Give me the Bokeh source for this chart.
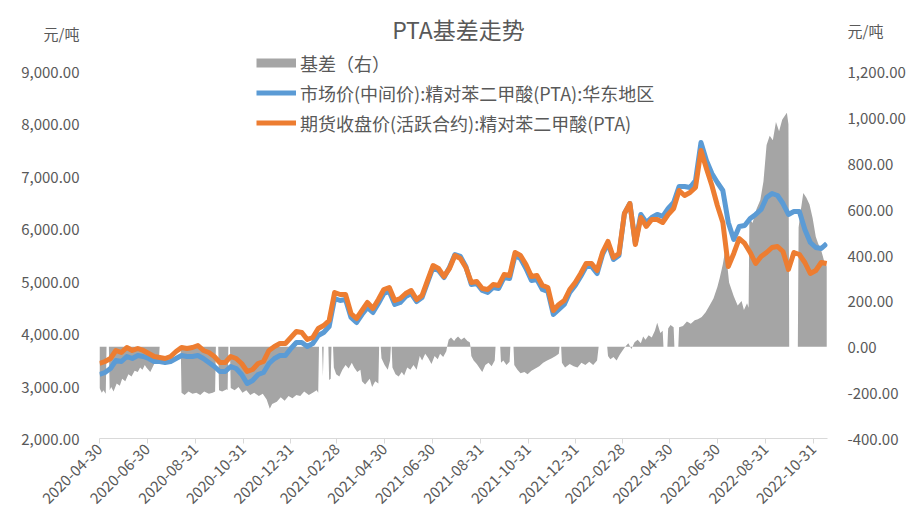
import pandas as pd
from math import pi
from bokeh.plotting import figure
from bokeh.models import (Range1d, LinearAxis, FixedTicker, NumeralTickFormatter,
                          DatetimeTickFormatter, Legend, LegendItem, Label)
from bokeh.embed import file_html
from bokeh.resources import INLINE

# ---------------- data ----------------
start_date = "2020-04-30"
end_offset_days = 932

# weekly samples starting 2020-04-30
market_price = [  # 市场价(中间价):精对苯二甲酸(PTA):华东地区
    3221, 3259, 3335, 3488, 3469, 3564, 3526, 3583, 3564, 3526,
    3469, 3469, 3450, 3469, 3526, 3583, 3564, 3564, 3583, 3526,
    3450, 3373, 3278, 3278, 3373, 3335, 3221, 3049, 3107, 3221,
    3259, 3431, 3526, 3583, 3583, 3717, 3831, 3831, 3755, 3812,
    3965, 4022, 4136, 4670, 4632, 4651, 4308, 4213, 4365, 4499,
    4403, 4575, 4766, 4804, 4556, 4594, 4709, 4766, 4613, 4690,
    4976, 5262, 5205, 5071, 5262, 5510, 5472, 5281, 4938, 4957,
    4823, 4785, 4880, 4861, 5071, 5052, 5491, 5433, 5243, 5014,
    5033, 4842, 4804, 4365, 4461, 4556, 4785, 4919, 5090, 5281,
    5281, 5147, 5510, 5720, 5414, 5491, 6292, 6482, 5720, 6273,
    6120, 6215, 6273, 6235, 6387, 6501, 6807, 6807, 6788, 6921,
    7646, 7303, 7055, 6883, 6730, 6120, 5796, 6044, 6063, 6197,
    6273, 6368, 6597, 6673, 6635, 6482, 6273, 6330, 6330, 5987,
    5738, 5643, 5624, 5720]

futures_price = [  # 期货收盘价(活跃合约):精对苯二甲酸(PTA)
    3431, 3469, 3526, 3679, 3640, 3736, 3679, 3717, 3679, 3621,
    3564, 3545, 3526, 3564, 3660, 3736, 3717, 3736, 3774, 3679,
    3640, 3564, 3450, 3450, 3564, 3526, 3431, 3278, 3316, 3431,
    3469, 3679, 3755, 3812, 3812, 3927, 4041, 4022, 3888, 3927,
    4098, 4155, 4251, 4785, 4747, 4747, 4384, 4289, 4441, 4594,
    4480, 4651, 4842, 4880, 4632, 4670, 4766, 4823, 4651, 4728,
    5014, 5300, 5243, 5090, 5243, 5491, 5433, 5262, 4976, 4995,
    4861, 4842, 4938, 4919, 5128, 5109, 5548, 5491, 5319, 5090,
    5109, 4919, 4880, 4442, 4556, 4632, 4842, 4976, 5147, 5338,
    5338, 5204, 5548, 5758, 5452, 5529, 6292, 6482, 5700, 6215,
    6044, 6177, 6177, 6120, 6273, 6387, 6730, 6635, 6692, 6788,
    7493, 7150, 6826, 6444, 6120, 5281, 5529, 5815, 5720, 5548,
    5338, 5471, 5548, 5643, 5662, 5567, 5224, 5548, 5510, 5357,
    5147, 5204, 5357, 5338]

# basis (右轴): days since 2020-04-30 and value
basis_day = [
    0, 3, 5, 8, 9, 12, 13, 15, 18, 22, 26, 29, 33, 37, 41, 45, 49, 52, 55, 58, 60, 65, 70, 76, 77,
    104, 105, 109, 114, 119, 124, 129, 134, 140, 145, 148, 149,
    152, 153, 157, 163, 164, 165,
    167, 168, 173, 178, 183, 188, 193, 198, 204, 209, 214, 218, 221, 227, 232, 237, 242, 247, 252, 257,
    262, 268, 273, 278, 280, 281,
    285, 286, 287,
    293, 294, 296, 297,
    299, 300, 303, 307, 311, 315, 319, 323, 326, 330, 334, 336, 340, 346, 349, 353, 357, 358,
    360, 361, 365, 369, 372, 373,
    374, 375, 379, 383, 387, 390, 394, 398, 402, 406, 410, 413, 417, 421, 425, 429, 433, 436, 440, 444, 445,
    447, 450, 454, 456, 459, 463, 467, 471, 474, 475,
    476, 479, 483, 486, 490, 494, 498, 502, 506, 507,
    513, 514, 517, 521, 525, 526,
    530, 531, 535, 539, 544, 548, 553, 558, 563, 568, 573, 579, 584, 588, 589,
    591, 592, 596, 602, 607, 612, 617, 622, 627, 632, 637, 639,
    650, 651, 654, 658, 662, 666, 669, 673, 677, 681, 685, 689, 693, 696, 699, 703, 707, 711, 714, 718, 721, 722,
    727, 728, 731, 735, 736,
    741, 742, 747, 752, 757, 762, 766, 771, 776, 781, 786, 791, 794, 798, 801, 803, 806, 812, 817, 822,
    825, 829, 831, 832, 836, 841, 846, 850, 854, 858, 862, 866, 870, 874, 878, 880, 882, 883,
    894, 895, 898, 901, 905, 909, 913, 917, 920, 924, 928, 931]

basis_value = [
    -180, -200, -190, -205, 0, 0, -190, -175, -195, -160, -170, -140, -150, -120, -130, -105, -110, -90, -100, -80, -90, -110, -75, -60, 0,
    0, -200, -210, -195, -205, -200, -210, -195, -205, -200, -195, 0,
    0, -190, -195, -185, -190, 0,
    0, -180, -190, -175, -200, -190, -210, -200, -215, -205, -230, -270, -250, -240, -220, -235, -215, -225, -210, -215,
    -195, -210, -200, -190, -200, 0,
    0, -130, 0,
    0, -145, -140, 0,
    0, -90, -120, -130, -100, -80, -95, -70, -90, -110, -100, -150, -165, -140, -175, -150, -160, 0,
    0, -50, -80, -100, -60, 0,
    0, -90, -120, -130, -110, -125, -90, -100, -80, -100, -40, -60, -30, -50, -75, -40, -55, -30, -45, -20, 0,
    30, 40, 25, 35, 45, 30, 40, 25, 20, 0,
    -40, -60, -75, -90, -110, -80, -70, -85, -60, 0,
    0, -70, -60, -80, -65, 0,
    0, -80, -100, -115, -110, -120, -105, -95, -85, -70, -60, -50, -40, -30, 0,
    0, -70, -90, -75, -85, -90, -70, -80, -65, -80, -60, 0,
    0, -40, -55, -45, -60, -35, -20, 0, 15, -10, 20, 30, 15, 45, 30, 50, 40, 70, 105, 60, 70, 0,
    0, 80, 95, 85, 0,
    0, 85, 90, 110, 100, 115, 120, 130, 150, 180, 210, 260, 300, 360, 420, 380, 280, 220, 180, 200,
    160, 190, 170, 560, 540, 600, 640, 720, 880, 920, 900, 980, 940, 990, 1010, 1020, 970, 0,
    0, 520, 600, 670, 650, 620, 560, 480, 450, 420, 370, 350]

tick_dates = ["2020-04-30", "2020-06-30", "2020-08-31", "2020-10-31", "2020-12-31",
              "2021-02-28", "2021-04-30", "2021-06-30", "2021-08-31", "2021-10-31",
              "2021-12-31", "2022-02-28", "2022-04-30", "2022-06-30", "2022-08-31",
              "2022-10-31"]
left_ticks = [2000, 3000, 4000, 5000, 6000, 7000, 8000, 9000]
right_ticks = [-400, -200, 0, 200, 400, 600, 800, 1000, 1200]

title_text = "PTA基差走势"
unit_text = "元/吨"
legend_labels = ["基差（右）",
                 "市场价(中间价):精对苯二甲酸(PTA):华东地区",
                 "期货收盘价(活跃合约):精对苯二甲酸(PTA)"]

# ---------------- layout constants ----------------
W, H = 915, 514
B_LEFT, B_RIGHT, B_TOP, B_BOTTOM = 99, 88, 8, 76
AXIS_PX = 367          # pixels from lowest to highest labelled tick
FRAME_H = H - B_TOP - B_BOTTOM
l_per_px = (left_ticks[-1] - left_ticks[0]) / AXIS_PX
r_per_px = (right_ticks[-1] - right_ticks[0]) / AXIS_PX
left_top = left_ticks[0] + FRAME_H * l_per_px
right_top = right_ticks[0] + FRAME_H * r_per_px
# unit captions sit as extra ticks near the top of each value axis
left_unit_at = left_ticks[0] + (FRAME_H - 25) * l_per_px
right_unit_at = right_ticks[0] + (FRAME_H - 22) * r_per_px

FONT = "Noto Sans CJK SC"
TXT = "#595959"
BLUE = "#5B9BD5"
ORANGE = "#ED7D31"
GREY = "#A5A5A5"

start = pd.Timestamp(start_date)
dates = pd.date_range(start, periods=len(market_price), freq="7D")
bdates = start + pd.to_timedelta(basis_day, unit="D")

p = figure(width=W, height=H, x_axis_type="datetime",
           x_range=Range1d(start, start + pd.Timedelta(days=end_offset_days)),
           y_range=Range1d(left_ticks[0], left_top),
           output_backend="svg", toolbar_location=None,
           min_border_left=B_LEFT, min_border_right=B_RIGHT,
           min_border_top=B_TOP, min_border_bottom=B_BOTTOM)
p.extra_y_ranges = {"right": Range1d(right_ticks[0], right_top)}
p.grid.visible = False
p.outline_line_color = None

r_area = p.varea(x=bdates, y1=0, y2=basis_value, y_range_name="right", fill_color=GREY)
r_blue = p.line(dates, market_price, line_color=BLUE, line_width=5, line_join="round")
r_orange = p.line(dates, futures_price, line_color=ORANGE, line_width=5, line_join="round")
# legend swatch for the area series (a single hidden point)
r_grey = p.line(x=[start], y=[float("nan")], line_color=GREY, line_width=9, line_cap="butt")

ya = p.yaxis[0]
ya.ticker = FixedTicker(ticks=left_ticks + [left_unit_at])
ya.formatter = NumeralTickFormatter(format="0,0.00")
ya.major_label_overrides = {left_unit_at: unit_text}

ra = LinearAxis(y_range_name="right", ticker=FixedTicker(ticks=right_ticks + [right_unit_at]),
                formatter=NumeralTickFormatter(format="0,0.00"))
ra.major_label_overrides = {right_unit_at: unit_text}
p.add_layout(ra, "right")

for ax in (ya, ra):
    ax.axis_line_color = None
    ax.major_tick_line_color = None
    ax.minor_tick_line_color = None
    ax.major_label_text_font = FONT
    ax.major_label_text_font_size = "15px"
    ax.major_label_text_color = TXT
    ax.major_label_standoff = 14

xa = p.xaxis[0]
xa.ticker = FixedTicker(ticks=[pd.Timestamp(d).timestamp() * 1000 for d in tick_dates])
fmt = "%Y-%m-%d"
xa.formatter = DatetimeTickFormatter(milliseconds=fmt, seconds=fmt, minsec=fmt, minutes=fmt,
                                     hourmin=fmt, hours=fmt, days=fmt, months=fmt, years=fmt)
xa.major_label_orientation = pi / 4
xa.axis_line_color = "#D9D9D9"
xa.major_tick_line_color = "#D9D9D9"
xa.major_tick_in = 0
xa.major_tick_out = 5
xa.minor_tick_line_color = None
xa.major_label_text_font = FONT
xa.major_label_text_font_size = "15px"
xa.major_label_text_color = TXT
xa.major_label_standoff = 3

legend = Legend(items=[LegendItem(label=legend_labels[0], renderers=[r_grey]),
                       LegendItem(label=legend_labels[1], renderers=[r_blue]),
                       LegendItem(label=legend_labels[2], renderers=[r_orange])],
                location=(157, 301), glyph_width=40, glyph_height=29, label_height=29,
                spacing=1, padding=0, margin=0, label_standoff=4,
                label_text_font=FONT, label_text_font_size="18px", label_text_color=TXT,
                border_line_color=None, background_fill_alpha=0)
p.add_layout(legend)

p.add_layout(Label(x=359, y=FRAME_H - 20, x_units="screen", y_units="screen", text=title_text,
                   text_align="center", text_baseline="middle", text_font=FONT,
                   text_font_size="23px", text_color=TXT))

open("out.html", "w").write(file_html(p, INLINE))
